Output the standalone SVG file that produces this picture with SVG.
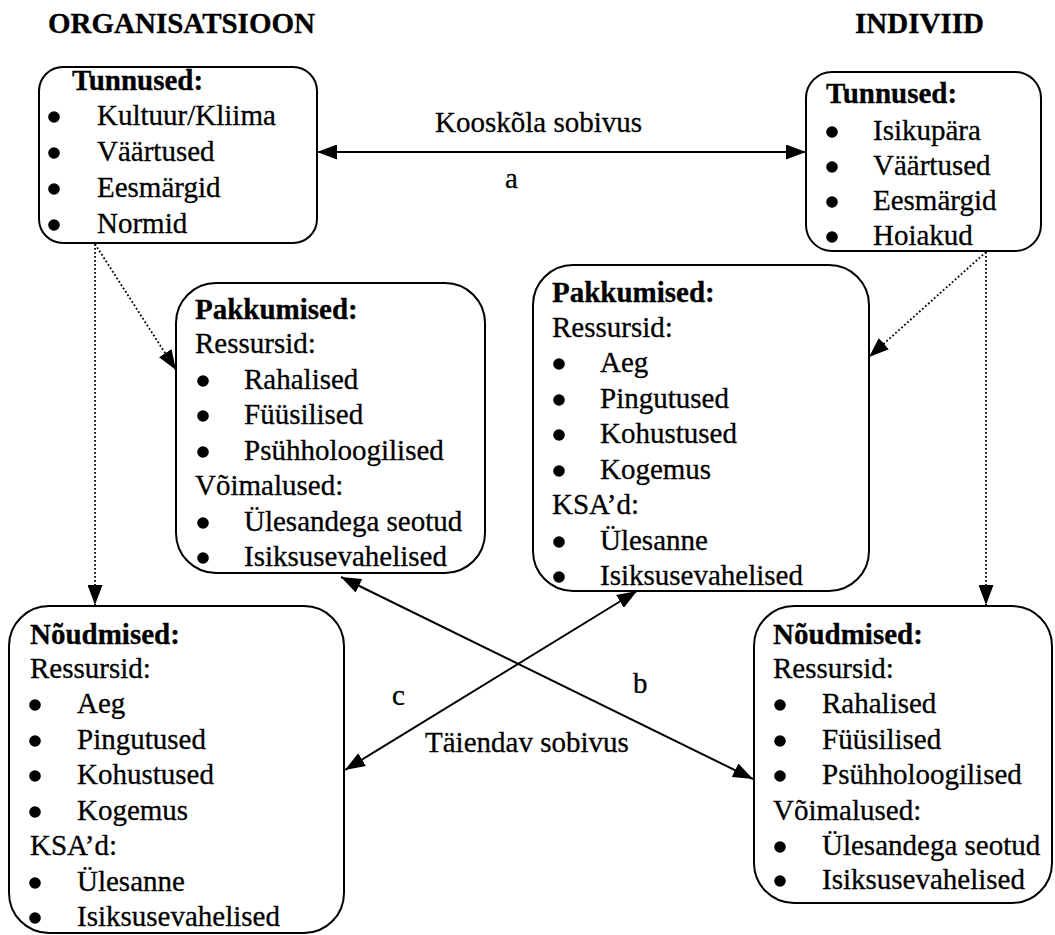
<svg xmlns="http://www.w3.org/2000/svg" width="1055" height="935" viewBox="0 0 1055 935">
  <style>
    text { font-family: 'Liberation Serif', 'Times New Roman', serif; font-size: 29px; fill: #000;
           stroke: #000; stroke-width: 0.3; }
    .b { font-weight: bold; }
    .box { fill: #fff; stroke: #000; stroke-width: 2; }
    .solid { fill: none; stroke: #000; stroke-width: 2; }
    .dot { fill: none; stroke: #000; stroke-width: 1.8; stroke-dasharray: 1.8 2.2; }
  </style>
  <defs>
    <marker id="ah" viewBox="0 0 20 15" refX="20" refY="7.5" markerWidth="20" markerHeight="15"
            markerUnits="userSpaceOnUse" orient="auto-start-reverse">
      <path d="M0,0 L20,7.5 L0,15 Z" fill="#000"/>
    </marker>
    <!-- list bullet -->
    <circle id="bl" r="5.8" fill="#000"/>
  </defs>
  <rect width="1055" height="935" fill="#fff"/>

  <!-- column headings -->
  <g id="headings">
    <text class="b" x="48" y="33">ORGANISATSIOON</text>
    <text class="b" x="855" y="33">INDIVIID</text>
  </g>

  <!-- connectors -->
  <g id="connectors">
    <line class="solid" x1="317" y1="152" x2="806" y2="152" marker-start="url(#ah)" marker-end="url(#ah)"/>
    <line class="solid" x1="341" y1="577" x2="753" y2="779" marker-start="url(#ah)" marker-end="url(#ah)"/>
    <line class="solid" x1="637" y1="591" x2="345" y2="770" marker-start="url(#ah)" marker-end="url(#ah)"/>
    <line class="dot" x1="95" y1="244" x2="95" y2="605" marker-end="url(#ah)"/>
    <line class="dot" x1="95" y1="244" x2="176" y2="370" marker-end="url(#ah)"/>
    <line class="dot" x1="986" y1="252" x2="986" y2="605" marker-end="url(#ah)"/>
    <line class="dot" x1="986" y1="252" x2="869" y2="357" marker-end="url(#ah)"/>
    <text x="435" y="132">Kooskõla sobivus</text>
    <text x="505" y="188">a</text>
    <text x="633" y="693">b</text>
    <text x="392" y="705">c</text>
    <text x="425" y="752">Täiendav sobivus</text>
  </g>

  <!-- organisation traits -->
  <g id="org-tunnused">
    <rect class="box" x="39" y="67" width="278" height="176" rx="24"/>
    <text class="b" x="72" y="90">Tunnused:</text>
    <use href="#bl" x="54" y="117"/><text x="97" y="125">Kultuur/Kliima</text>
    <use href="#bl" x="54" y="153"/><text x="97" y="161">Väärtused</text>
    <use href="#bl" x="54" y="189"/><text x="97" y="197">Eesmärgid</text>
    <use href="#bl" x="54" y="225"/><text x="97" y="233">Normid</text>
  </g>

  <!-- individual traits -->
  <g id="ind-tunnused">
    <rect class="box" x="806" y="72" width="235" height="179" rx="26"/>
    <text class="b" x="826" y="103">Tunnused:</text>
    <use href="#bl" x="832" y="132"/><text x="873" y="140">Isikupära</text>
    <use href="#bl" x="832" y="167"/><text x="873" y="175">Väärtused</text>
    <use href="#bl" x="832" y="202"/><text x="873" y="210">Eesmärgid</text>
    <use href="#bl" x="832" y="237"/><text x="873" y="245">Hoiakud</text>
  </g>

  <!-- organisation offers -->
  <g id="org-pakkumised">
    <rect class="box" x="176" y="283" width="309" height="290" rx="40"/>
    <text class="b" x="195" y="319">Pakkumised:</text>
    <text x="195" y="353">Ressursid:</text>
    <use href="#bl" x="203" y="381"/><text x="244" y="389">Rahalised</text>
    <use href="#bl" x="203" y="416"/><text x="244" y="424">Füüsilised</text>
    <use href="#bl" x="203" y="452"/><text x="244" y="460">Psühholoogilised</text>
    <text x="195" y="495">Võimalused:</text>
    <use href="#bl" x="203" y="523"/><text x="244" y="531">Ülesandega seotud</text>
    <use href="#bl" x="203" y="558"/><text x="244" y="566">Isiksusevahelised</text>
  </g>

  <!-- individual offers -->
  <g id="ind-pakkumised">
    <rect class="box" x="533" y="265" width="336" height="326" rx="40"/>
    <text class="b" x="552" y="302">Pakkumised:</text>
    <text x="552" y="337">Ressursid:</text>
    <use href="#bl" x="559" y="364"/><text x="600" y="372">Aeg</text>
    <use href="#bl" x="559" y="400"/><text x="600" y="408">Pingutused</text>
    <use href="#bl" x="559" y="435"/><text x="600" y="443">Kohustused</text>
    <use href="#bl" x="559" y="471"/><text x="600" y="479">Kogemus</text>
    <text x="552" y="514">KSA’d:</text>
    <use href="#bl" x="559" y="542"/><text x="600" y="550">Ülesanne</text>
    <use href="#bl" x="559" y="577"/><text x="600" y="585">Isiksusevahelised</text>
  </g>

  <!-- organisation demands -->
  <g id="org-noudmised">
    <rect class="box" x="9" y="606" width="335" height="327" rx="40"/>
    <text class="b" x="30" y="644">Nõudmised:</text>
    <text x="30" y="678">Ressursid:</text>
    <use href="#bl" x="35" y="705"/><text x="77" y="713">Aeg</text>
    <use href="#bl" x="35" y="741"/><text x="77" y="749">Pingutused</text>
    <use href="#bl" x="35" y="776"/><text x="77" y="784">Kohustused</text>
    <use href="#bl" x="35" y="812"/><text x="77" y="820">Kogemus</text>
    <text x="30" y="855">KSA’d:</text>
    <use href="#bl" x="35" y="883"/><text x="77" y="891">Ülesanne</text>
    <use href="#bl" x="35" y="918"/><text x="77" y="926">Isiksusevahelised</text>
  </g>

  <!-- individual demands -->
  <g id="ind-noudmised">
    <rect class="box" x="754" y="606" width="298" height="297" rx="40"/>
    <text class="b" x="773" y="644">Nõudmised:</text>
    <text x="773" y="678">Ressursid:</text>
    <use href="#bl" x="780" y="705"/><text x="822" y="713">Rahalised</text>
    <use href="#bl" x="780" y="741"/><text x="822" y="749">Füüsilised</text>
    <use href="#bl" x="780" y="776"/><text x="822" y="784">Psühholoogilised</text>
    <text x="773" y="820">Võimalused:</text>
    <use href="#bl" x="780" y="847"/><text x="822" y="855">Ülesandega seotud</text>
    <use href="#bl" x="780" y="881"/><text x="822" y="889">Isiksusevahelised</text>
  </g>
</svg>
